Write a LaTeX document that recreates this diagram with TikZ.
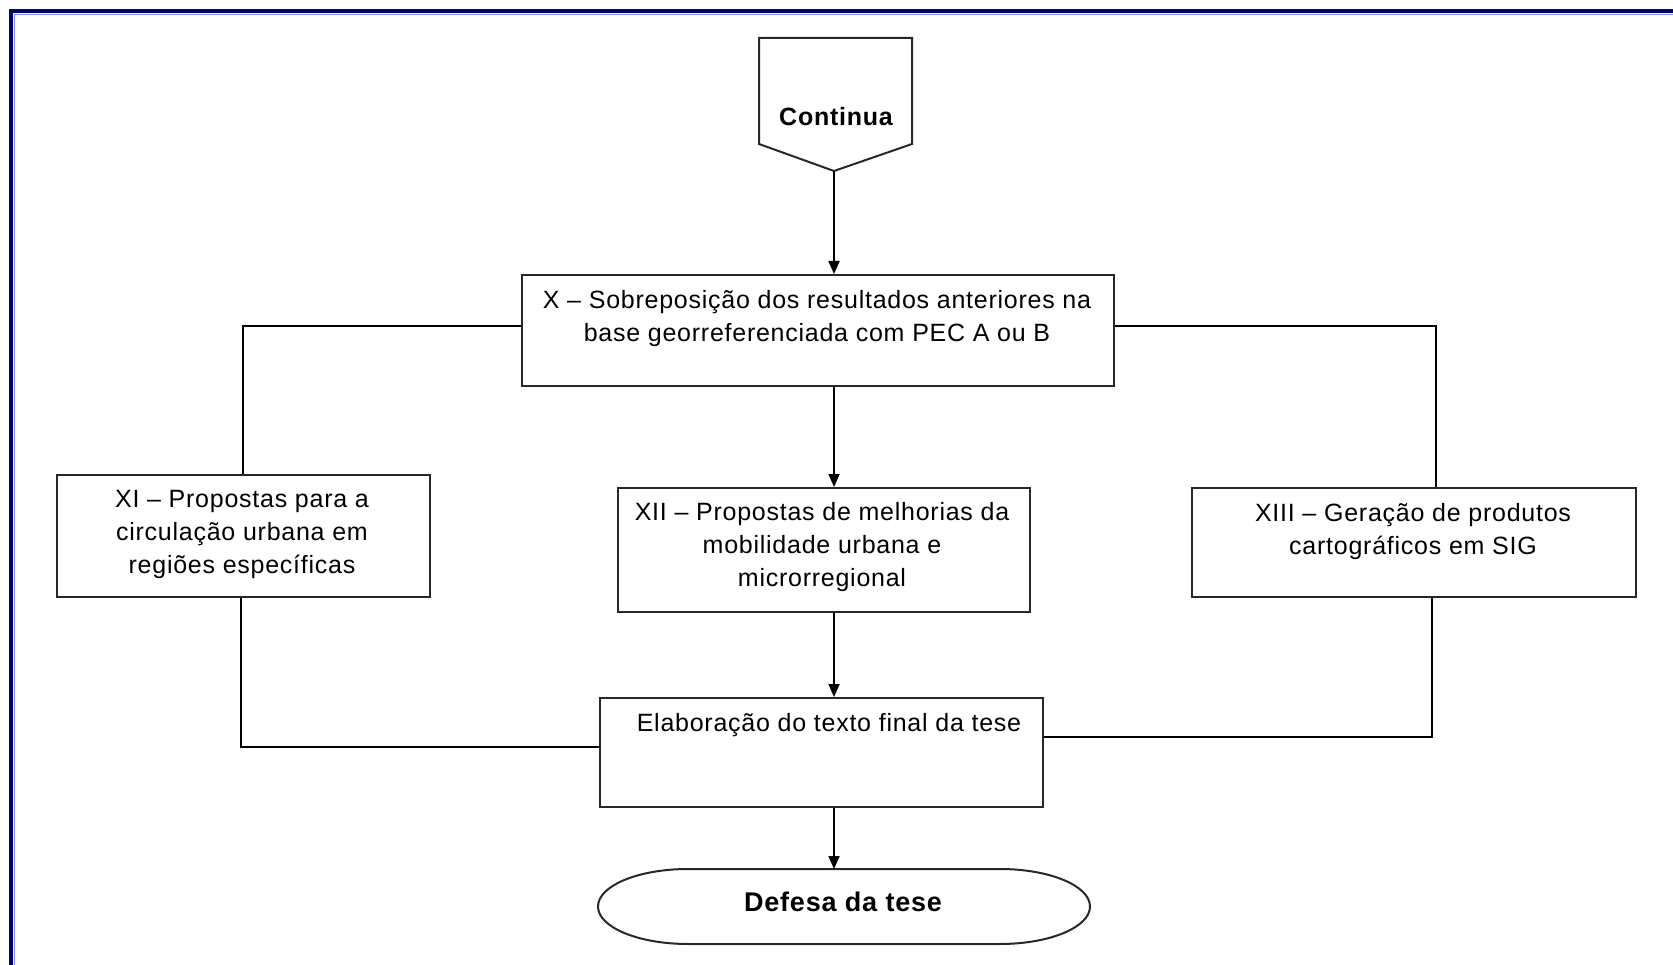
\documentclass[tikz,border=0pt]{standalone}
\usepackage{fontspec}
\setmainfont{Liberation Sans}[LetterSpace=3]
\usetikzlibrary{arrows.meta,calc}
\definecolor{navyb}{RGB}{0,0,128}
\definecolor{navyl}{RGB}{140,140,210}
\definecolor{boxc}{RGB}{40,40,40}
\begin{document}
\begin{tikzpicture}[x=1pt,y=-1pt,
  every node/.style={font=\fontsize{25}{33}\selectfont},
  stepbox/.style={draw=boxc,line width=2pt,rectangle,minimum width=#1,inner sep=0pt},
  txt/.style={anchor=base,align=center,inner sep=0pt,text=black},
  conn/.style={draw=black,line width=1.8pt},
  arr/.style={conn,-{Triangle[length=13pt,width=11pt]}}]
\useasboundingbox (0,0) rectangle (1673,965);
\fill[white] (0,0) rectangle (1673,965);
% frame
\draw[navyb,line width=4pt] (11,11) rectangle (1720,1020);
\draw[navyl,line width=1.5pt] (14.5,14.5) -- (14.5,1020);
\draw[navyl,line width=1.5pt] (14.5,14.5) -- (1720,14.5);
% Continua
\draw[boxc,line width=2pt] (759,38) -- (912,38) -- (912,144) -- (834,171) -- (759,144) -- cycle;
\coordinate (contb) at (834,171);
\node[txt,font=\fontsize{25}{33}\selectfont\bfseries] (conttxt) at (836,126) {Continua};
% boxes (text anchors at the baseline of the last line)
\node[stepbox=592,minimum height=111] (X) at (818,330.5) {};
\node[txt] (Xt) at (817,342) {X – Sobreposição dos resultados anteriores na\\base georreferenciada com PEC A ou B};
\node[stepbox=373,minimum height=122] (XI) at (243.5,536) {};
\node[txt] (XIt) at (242,573) {XI – Propostas para a\\circulação urbana em\\regiões específicas};
\node[stepbox=412,minimum height=124] (XII) at (824,550) {};
\node[txt] (XIIt) at (822,586) {XII – Propostas de melhorias da\\mobilidade urbana e\\microrregional};
\node[stepbox=444,minimum height=109] (XIII) at (1414,542.5) {};
\node[txt] (XIIIt) at (1413,554) {XIII – Geração de produtos\\cartográficos em SIG};
\node[stepbox=443,minimum height=109] (E) at (821.5,752.5) {};
\node[txt] (Et) at (829,731) {Elaboração do texto final da tese};
% Defesa
\draw[boxc,line width=2pt] (688,869) -- (1000,869) arc[start angle=-90,end angle=90,x radius=90,y radius=37.5] -- (688,944) arc[start angle=90,end angle=270,x radius=90,y radius=37.5] -- cycle;
\coordinate (deft) at (834,869);
\node[txt,font=\fontsize{27}{33}\selectfont\bfseries] (Dt) at (843,911) {Defesa da tese};
% connectors
\draw[arr] (contb) -- (contb |- X.north);
\draw[arr] (X.south -| contb) -- (XII.north -| contb);
\draw[arr] (XII.south -| contb) -- (E.north -| contb);
\draw[arr] (E.south -| contb) -- (deft);
\draw[conn] ([yshift=4.5pt]X.west) -| ([xshift=-0.5pt]XI.north);
\draw[conn] ([yshift=4.5pt]X.east) -| ([xshift=22pt]XIII.north);
\draw[conn] ([xshift=-2.5pt]XI.south) |- ([yshift=5.5pt]E.west);
\draw[conn] ([xshift=18pt]XIII.south) |- ([yshift=15.5pt]E.east);
\end{tikzpicture}
\end{document}
